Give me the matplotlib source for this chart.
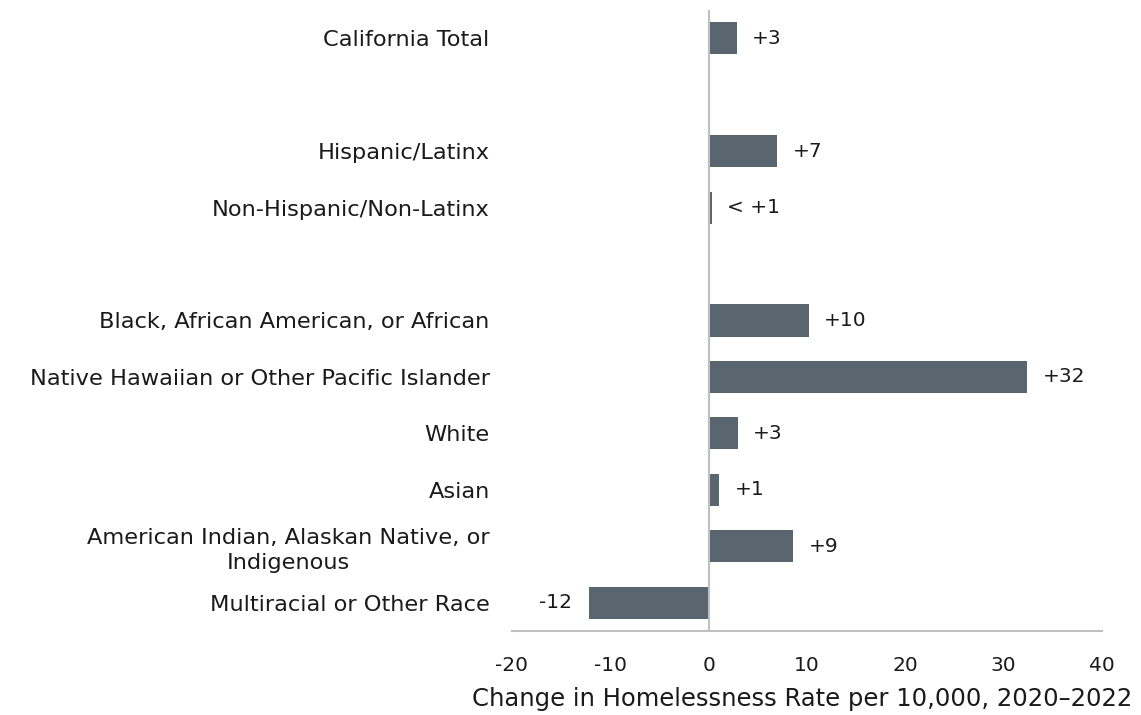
import matplotlib
matplotlib.use("Agg")
import matplotlib.pyplot as plt

categories = [
    "California Total",
    "",
    "Hispanic/Latinx",
    "Non-Hispanic/Non-Latinx",
    "",
    "Black, African American, or African",
    "Native Hawaiian or Other Pacific Islander",
    "White",
    "Asian",
    "American Indian, Alaskan Native, or\nIndigenous",
    "Multiracial or Other Race",
]
values = [2.85, None, 7.0, 0.3, None, 10.2, 32.4, 2.95, 1.1, 8.6, -12.2]
value_labels = ["+3", "", "+7", "< +1", "", "+10", "+32", "+3", "+1", "+9", "-12"]
xticks = [-20, -10, 0, 10, 20, 30, 40]

plt.rcParams['font.family'] = ['DejaVu Sans']

fig = plt.figure(figsize=(11.41, 7.15), dpi=100)
ax = fig.add_axes([0.4487, 0.1175, 0.5171, 0.8685])

bar_color = "#59656f"
grey = "#bfbfbf"
txt = "#1a1a1a"
ys = list(range(len(categories)))
for y, v, lab in zip(ys, values, value_labels):
    if v is None:
        continue
    ax.barh(y, v, height=0.57, color=bar_color, zorder=2)
    if v >= 0:
        ax.annotate(lab, (v, y), xytext=(11, 0), textcoords="offset points",
                    ha="left", va="center", fontsize=14.5, color=txt)
    else:
        ax.annotate(lab, (v, y), xytext=(-12, 0), textcoords="offset points",
                    ha="right", va="center", fontsize=14.5, color=txt)

ax.set_xlim(-20, 40)
ax.set_ylim(len(categories) - 0.5, -0.5)
ax.set_xticks(xticks)
ax.set_xticklabels([str(t) for t in xticks], fontsize=14.5, color=txt)
ax.set_yticks(ys)
ax.set_yticklabels(categories, fontsize=16.2, color=txt, ha="right",
                   multialignment="center", linespacing=1.3)
ax.tick_params(axis="y", length=0, pad=16)
ax.tick_params(axis="x", length=0, pad=18)
ax.axvline(0, color=grey, lw=1.5, zorder=3)
for s in ["top", "right", "left"]:
    ax.spines[s].set_visible(False)
ax.spines["bottom"].set_color(grey)
ax.spines["bottom"].set_linewidth(1.5)
ax.set_xlabel("Change in Homelessness Rate per 10,000, 2020\u20132022", fontsize=17.5,
              color=txt)
ax.xaxis.set_label_coords(0.4915, -0.091)

fig.savefig("out.png", dpi=100)
